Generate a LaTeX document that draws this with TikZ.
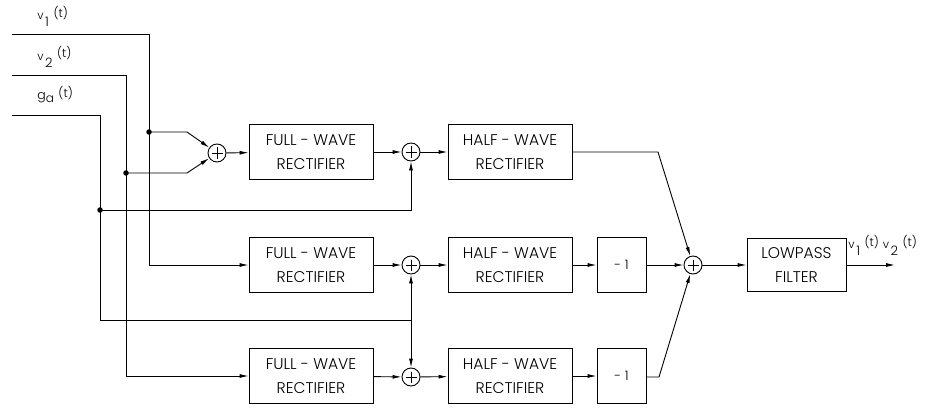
\documentclass[tikz,border=0pt]{standalone}
\usepackage{fontspec}
\setmainfont{Poppins Light}
\usetikzlibrary{arrows.meta,calc}
\newcommand{\sigl}[2]{{\fontsize{11.5}{12}\selectfont #1\hspace{1.5pt}\raisebox{-7pt}{\fontsize{13}{13}\selectfont #2}\hspace{4.5pt}\raisebox{2.5pt}{\fontsize{12}{12}\selectfont(t)}}}
\newcommand{\sigg}{{\fontsize{12.5}{13}\selectfont g\raisebox{-3pt}{\fontsize{12}{12}\selectfont a}\hspace{4.5pt}\raisebox{2pt}{\fontsize{12}{12}\selectfont(t)}}}
\begin{document}
\begin{tikzpicture}[x=1pt,y=-1pt,line width=0.9pt,
  blk/.style={draw, minimum width=124pt, minimum height=55pt, align=center, inner sep=0pt, font=\fontsize{15.5}{23.5}\selectfont},
  sumn/.style={draw, circle, minimum size=18pt, inner sep=0pt},
  arr/.style={-{Latex[length=9pt,width=4pt]}},
  dot/.style={circle, fill, inner sep=0pt, minimum size=5.5pt},
  lbl/.style={inner sep=0pt, anchor=base west}]
\useasboundingbox (0,0) rectangle (926,409);
% blocks
\node[blk] (FW1) at (311,152) {FULL - WAVE\\RECTIFIER};
\node[blk] (FW2) at (311,265) {FULL - WAVE\\RECTIFIER};
\node[blk] (FW3) at (311,376) {FULL - WAVE\\RECTIFIER};
\node[blk] (HW1) at (510,152) {HALF - WAVE\\RECTIFIER};
\node[blk] (HW2) at (510,265) {HALF - WAVE\\RECTIFIER};
\node[blk] (HW3) at (510,376) {HALF - WAVE\\RECTIFIER};
\node[blk, minimum width=49pt, font=\fontsize{13}{14}\selectfont] (M2) at (621.5,265) {- 1};
\node[blk, minimum width=49pt, font=\fontsize{13}{14}\selectfont] (M3) at (621.5,376) {- 1};
\node[blk, minimum width=99pt, minimum height=53pt] (LP) at (796.5,265) {LOWPASS\\FILTER};
% summers
\node[sumn] (S1) at (217,153) {};
\node[sumn] (S2) at (411,152) {};
\node[sumn] (S2b) at (411,265) {};
\node[sumn] (S3) at (411,377) {};
\node[sumn] (SM) at (693,265) {};
\foreach \s in {S1,S2,S2b,S3,SM}{
  \draw[line width=0.9pt] ($(\s.center)+(-5.5,0)$) -- ($(\s.center)+(5.5,0)$);
  \draw[line width=0.9pt] ($(\s.center)+(0,-5.5)$) -- ($(\s.center)+(0,5.5)$);
}
% labels
\node[lbl] (L1) at (37,20) {\sigl{v}{1}};
\node[lbl] (L2) at (37,60.5) {\sigl{v}{2}};
\node[lbl] (L3) at (37,100) {\sigg};
\node[lbl] (LO) at (848,248.5) {\sigl{v}{1}\hspace{4pt}\sigl{v}{2}};
% coordinates
\coordinate (v1s) at (12,34); \coordinate (v1k) at (149,34);
\coordinate (v2s) at (12,75); \coordinate (v2k) at (126,75);
\coordinate (gas) at (12,115); \coordinate (gak) at (100,115);
\node[dot] (D1) at (149,132) {};
\node[dot] (D2) at (126,173) {};
\node[dot] (D3) at (100,210) {};
\coordinate (b1) at (187,132); \coordinate (b2) at (187,173);
\coordinate (gj) at (411,320);
\coordinate (t1) at (658,152); \coordinate (t3) at (659,377);
\coordinate (out) at (895,265);
% inputs
\draw[arr] (v1s) -- (v1k) |- (FW2.west);
\draw[arr] (v2s) -- (v2k) |- (FW3.west);
\draw (gas) -- (gak) |- (gj);
\draw[arr] (D1.center) -- (b1) -- (S1);
\draw[arr] (D2.center) -- (b2) -- (S1);
\draw[arr] (D3.center) -| (S2);
\draw[arr] (gj) -- (S2b);
\draw[arr] (gj) -- (S3);
% row 1
\draw[arr] (S1) -- (FW1);
\draw[arr] (FW1) -- (S2);
\draw[arr] (S2) -- (HW1);
\draw[arr] (HW1.east |- t1) -- (t1) -- (SM);
% row 2
\draw[arr] (FW2) -- (S2b);
\draw[arr] (S2b) -- (HW2);
\draw[arr] (HW2) -- (M2);
\draw[arr] (M2) -- (SM);
% row 3
\draw[arr] (FW3) -- (S3);
\draw[arr] (S3) -- (HW3);
\draw[arr] (HW3) -- (M3);
\draw[arr] (M3.east |- t3) -- (t3) -- (SM);
% output
\draw[arr] (SM) -- (LP);
\draw[arr] (LP) -- (out);
\end{tikzpicture}
\end{document}
